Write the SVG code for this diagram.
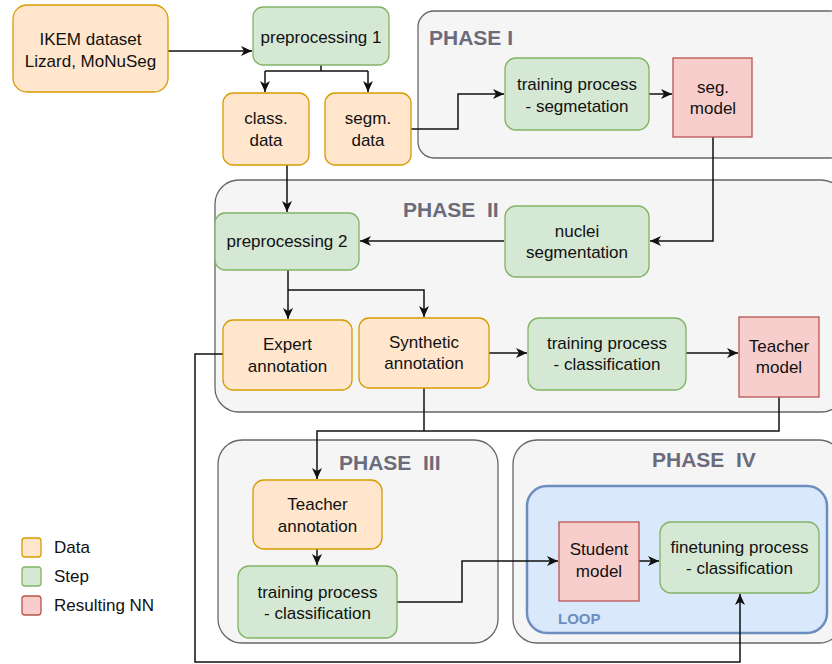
<svg xmlns="http://www.w3.org/2000/svg" width="832" height="664" viewBox="0 0 832 664">
<style>
text{font-family:"Liberation Sans",Arial,sans-serif;font-size:17px;fill:#111;text-anchor:middle}
.phase{fill:#f5f5f5;stroke:#666;stroke-width:1.3}
.data{fill:#ffe6cc;stroke:#d79b00;stroke-width:1.3}
.step{fill:#d5e8d4;stroke:#82b366;stroke-width:1.3}
.nn{fill:#f8cecc;stroke:#b85450;stroke-width:1.3}
.title{font-weight:bold;font-size:21px;fill:#6b6b7b;text-anchor:start;white-space:pre}
.loop{fill:#dae8fc;stroke:#6c8ebf;stroke-width:2.5}
.looplbl{font-weight:bold;font-size:15px;fill:#6c8ebf;text-anchor:start}
.leg{text-anchor:start;font-size:17px}
.c{fill:none;stroke:#111;stroke-width:1.5}
.a{marker-end:url(#ah)}
</style>
<defs>
<marker id="ah" markerUnits="userSpaceOnUse" markerWidth="12" markerHeight="12" viewBox="0 0 12 12" refX="11" refY="6" orient="auto">
<path d="M0,1 L11,6 L0,11 L3,6 z" fill="#111"/>
</marker>
</defs>

<g id="phase1"><rect class="phase" x="418" y="11" width="428" height="147" rx="16"/><text class="title" x="429" y="45">PHASE I</text></g>
<g id="phase2"><rect class="phase" x="215" y="180" width="630" height="232" rx="24"/><text class="title" x="403" y="217" xml:space="preserve">PHASE  II</text></g>
<g id="phase3"><rect class="phase" x="218" y="440" width="280" height="203" rx="24"/><text class="title" x="339" y="470" xml:space="preserve">PHASE  III</text></g>
<g id="phase4"><rect class="phase" x="513" y="440" width="330" height="203" rx="24"/><text class="title" x="652" y="467" xml:space="preserve">PHASE  IV</text></g>
<g id="loop"><rect class="loop" x="527" y="486" width="300" height="147" rx="20"/><text class="looplbl" x="558" y="624">LOOP</text></g>

<g id="connectors">
<path class="c a" d="M168,51 L252,51"/>
<path class="c" d="M321,65 L321,71"/>
<path class="c a" d="M265,71 L368,71 M265,71 L265,92"/>
<path class="c a" d="M368,71 L368,92"/>
<path class="c a" d="M411,129 L458,129 L458,94 L504,94"/>
<path class="c a" d="M649,94 L672,94"/>
<path class="c a" d="M713,137 L713,241 L650,241"/>
<path class="c a" d="M287,165 L287,212"/>
<path class="c a" d="M504,241 L360,241"/>
<path class="c a" d="M288,270 L288,319"/>
<path class="c a" d="M288,290 L424,290 L424,317"/>
<path class="c a" d="M489,353 L527,353"/>
<path class="c a" d="M686,353 L738,353"/>
<path class="c" d="M424,388 L424,431"/>
<path class="c a" d="M779,396 L779,431 L317,431 L317,479"/>
<path class="c a" d="M317,549 L317,565"/>
<path class="c a" d="M397,602 L462,602 L462,561 L558,561"/>
<path class="c a" d="M639,561 L659,561"/>
<path class="c a" d="M223,354 L195,354 L195,662 L740,662 L740,594"/>
</g>

<g id="ikem"><rect class="data" x="13" y="5" width="155" height="87" rx="14"/><text x="90.5" y="45">IKEM dataset</text><text x="90.5" y="67">Lizard, MoNuSeg</text></g>
<g id="pp1"><rect class="step" x="253" y="7" width="136" height="58" rx="10"/><text x="321" y="42.5">preprocessing 1</text></g>
<g id="classdata"><rect class="data" x="223" y="93" width="86" height="72" rx="10"/><text x="266" y="124">class.</text><text x="266" y="146">data</text></g>
<g id="segmdata"><rect class="data" x="325" y="93" width="86" height="72" rx="10"/><text x="368" y="124">segm.</text><text x="368" y="146">data</text></g>
<g id="trainseg"><rect class="step" x="505" y="58" width="144" height="72" rx="11"/><text x="577" y="90">training process</text><text x="577" y="111.5">- segmetation</text></g>
<g id="segmodel"><rect class="nn" x="673" y="58" width="79" height="79"/><text x="713" y="93">seg.</text><text x="713" y="114">model</text></g>
<g id="pp2"><rect class="step" x="215" y="213" width="144" height="57" rx="10"/><text x="287" y="247">preprocessing 2</text></g>
<g id="nuclei"><rect class="step" x="505" y="206" width="144" height="71" rx="11"/><text x="577" y="236.5">nuclei</text><text x="577" y="257.5">segmentation</text></g>
<g id="expert"><rect class="data" x="223" y="320" width="129" height="70" rx="10"/><text x="287.5" y="350">Expert</text><text x="287.5" y="372">annotation</text></g>
<g id="synthetic"><rect class="data" x="359" y="318" width="130" height="70" rx="10"/><text x="424" y="348">Synthetic</text><text x="424" y="369">annotation</text></g>
<g id="traincls2"><rect class="step" x="528" y="318" width="158" height="72" rx="11"/><text x="607" y="349">training process</text><text x="607" y="370">- classification</text></g>
<g id="teachermodel"><rect class="nn" x="739" y="317" width="80" height="80"/><text x="779" y="352">Teacher</text><text x="779" y="373">model</text></g>
<g id="teacherann"><rect class="data" x="253" y="480" width="129" height="69" rx="11"/><text x="317.5" y="509.5">Teacher</text><text x="317.5" y="531.5">annotation</text></g>
<g id="traincls3"><rect class="step" x="238" y="566" width="159" height="72" rx="11"/><text x="317.5" y="597.5">training process</text><text x="317.5" y="618.5">- classification</text></g>
<g id="student"><rect class="nn" x="559" y="522" width="80" height="79"/><text x="599" y="555">Student</text><text x="599" y="577">model</text></g>
<g id="finetune"><rect class="step" x="660" y="522" width="159" height="71" rx="11"/><text x="739.5" y="553">finetuning process</text><text x="739.5" y="574">- classification</text></g>

<g id="legend">
<rect class="data" x="22" y="538" width="19" height="19" rx="3"/><text class="leg" x="54" y="553">Data</text>
<rect class="step" x="22" y="567" width="19" height="19" rx="3"/><text class="leg" x="54" y="582">Step</text>
<rect class="nn" x="22" y="596" width="19" height="19" rx="3"/><text class="leg" x="54" y="611">Resulting NN</text>
</g>
</svg>
